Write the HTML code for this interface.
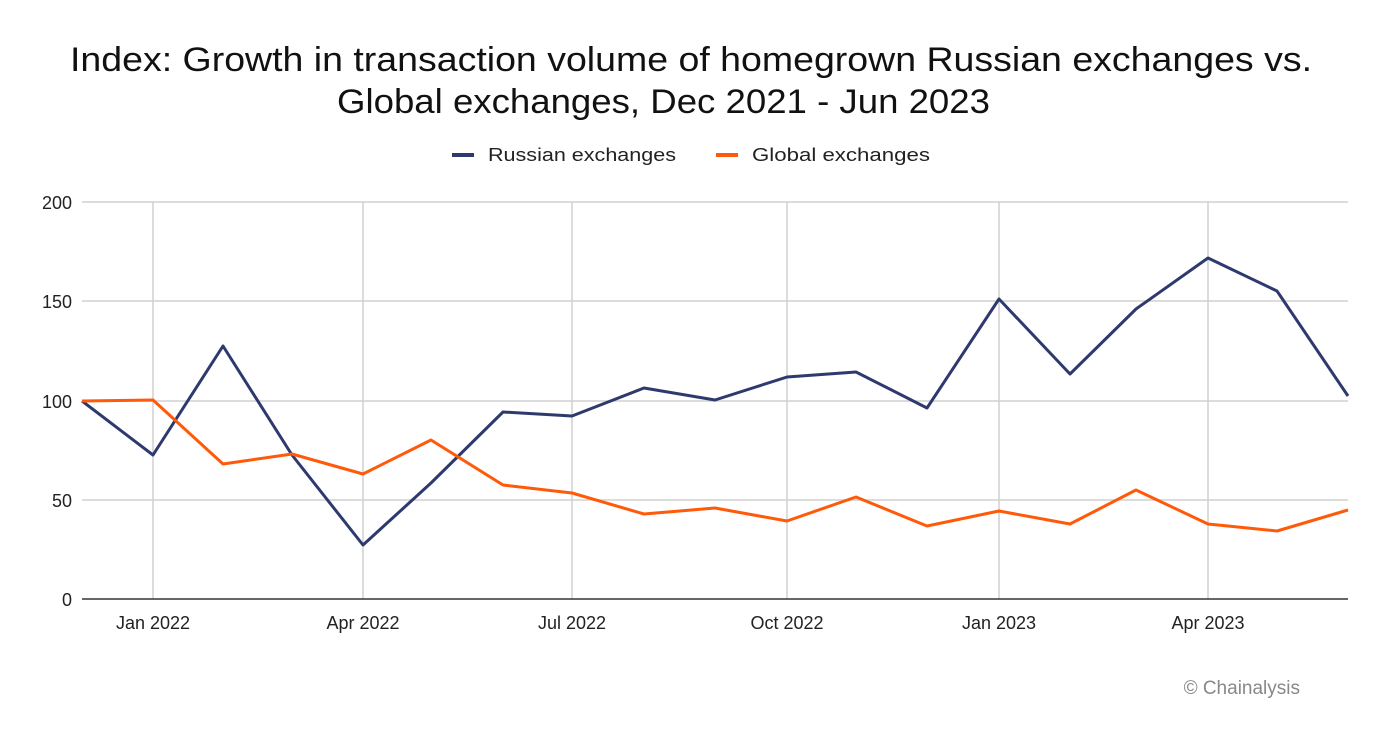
<!DOCTYPE html>
<html><head><meta charset="utf-8"><style>
body{margin:0;background:#fff;}
svg text{font-family:"Liberation Sans",sans-serif;}
</style></head><body>
<svg width="1382" height="726" xmlns="http://www.w3.org/2000/svg">
<rect width="1382" height="726" fill="#fff"/>
<text x="70" y="71" font-size="34" fill="#111" textLength="1242" lengthAdjust="spacingAndGlyphs">Index: Growth in transaction volume of homegrown Russian exchanges vs.</text>
<text x="337" y="113" font-size="34" fill="#111" textLength="653" lengthAdjust="spacingAndGlyphs">Global exchanges, Dec 2021 - Jun 2023</text>
<line x1="452" y1="155" x2="474" y2="155" stroke="#2e3a6e" stroke-width="4"/>
<text x="488" y="161" font-size="18" fill="#222" textLength="188" lengthAdjust="spacingAndGlyphs">Russian exchanges</text>
<line x1="716" y1="155" x2="738" y2="155" stroke="#ff5a0a" stroke-width="4"/>
<text x="752" y="161" font-size="18" fill="#222" textLength="178" lengthAdjust="spacingAndGlyphs">Global exchanges</text>
<g stroke="#d0d0d0" stroke-width="1.5">
<line x1="82" y1="202" x2="1348" y2="202"/>
<line x1="82" y1="301" x2="1348" y2="301"/>
<line x1="82" y1="401" x2="1348" y2="401"/>
<line x1="82" y1="500" x2="1348" y2="500"/>
<line x1="153" y1="202" x2="153" y2="599"/>
<line x1="363" y1="202" x2="363" y2="599"/>
<line x1="572" y1="202" x2="572" y2="599"/>
<line x1="787" y1="202" x2="787" y2="599"/>
<line x1="999" y1="202" x2="999" y2="599"/>
<line x1="1208" y1="202" x2="1208" y2="599"/>
</g>
<line x1="82" y1="599" x2="1348" y2="599" stroke="#333" stroke-width="1.5"/>
<g font-size="18" fill="#222" text-anchor="end">
<text x="72" y="209">200</text><text x="72" y="308">150</text><text x="72" y="408">100</text><text x="72" y="507">50</text><text x="72" y="606">0</text>
</g>
<g font-size="18" fill="#222" text-anchor="middle">
<text x="153" y="629">Jan 2022</text><text x="363" y="629">Apr 2022</text><text x="572" y="629">Jul 2022</text><text x="787" y="629">Oct 2022</text><text x="999" y="629">Jan 2023</text><text x="1208" y="629">Apr 2023</text>
</g>
<polyline fill="none" stroke="#2e3a6e" stroke-width="3" stroke-linejoin="round" points="82,401 153,455 223,346 292,455 363,545 431,483 503,412 572,416 644,388 715,400 787,377 856,372 927,408 999,299 1070,374 1136,309 1208,258 1277,291 1348,396"/>
<polyline fill="none" stroke="#ff5a0a" stroke-width="3" stroke-linejoin="round" points="82,401 153,400 223,464 292,454 363,474 431,440 503,485 572,493 644,514 715,508 787,521 856,497 927,526 999,511 1070,524 1136,490 1208,524 1277,531 1348,510"/>
<text x="1300" y="694" font-size="19" fill="#888" text-anchor="end">© Chainalysis</text>
</svg>
</body></html>
